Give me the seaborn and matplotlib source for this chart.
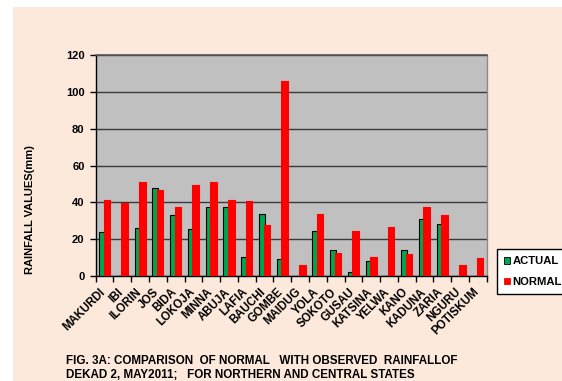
import numpy as np
import pandas as pd
import matplotlib
matplotlib.use("Agg")
import matplotlib.pyplot as plt
import matplotlib.transforms as mtransforms
from matplotlib.patches import Rectangle, Patch
import seaborn as sns

# Stations and rainfall (mm) for the dekad
stations = ["MAKURDI", "IBI", "ILORIN", "JOS", "BIDA", "LOKOJA", "MINNA", "ABUJA",
            "LAFIA", "BAUCHI", "GOMBE", "MAIDUG", "YOLA", "SOKOTO", "GUSAU",
            "KATSINA", "YELWA", "KANO", "KADUNA", "ZARIA", "NGURU", "POTISKUM"]
actual = [23.7, 0.0, 25.9, 47.6, 32.9, 25.3, 37.3, 37.6, 10.1, 33.7, 9.0,
          0.0, 24.4, 14.3, 2.4, 8.1, 0.0, 13.9, 30.8, 28.2, 0.0, 0.0]
normal = [40.9, 39.1, 50.5, 46.3, 36.9, 49.0, 50.5, 40.5, 40.2, 27.0, 105.5,
          5.2, 33.1, 11.9, 24.1, 10.0, 25.9, 11.6, 36.7, 32.4, 5.6, 9.2]
series_names = ["ACTUAL", "NORMAL"]
y_ticks = [0, 20, 40, 60, 80, 100, 120]

df = pd.DataFrame({
    "station": stations * 2,
    "series": [series_names[0]] * len(stations) + [series_names[1]] * len(stations),
    "value": actual + normal,
})

GREEN = "#00A550"
RED = "#FF0000"
PEACH = "#FDE9DB"
PLOT_GRAY = "#C0C0C0"

sns.set_style("white")
plt.rcParams["font.family"] = ["Liberation Sans", "DejaVu Sans"]
plt.rcParams["font.weight"] = "bold"
for key in ["text.color", "axes.labelcolor", "xtick.color", "ytick.color"]:
    plt.rcParams[key] = "black"

fig = plt.figure(figsize=(5.62, 3.81), dpi=100, facecolor="white")
# peach chart area with a thin white margin at left and top
fig.patches.append(Rectangle((13 / 562, 0), 1, 1 - 7 / 381, transform=fig.transFigure,
                             facecolor=PEACH, edgecolor="none", zorder=-10))

ax = fig.add_axes([95.7 / 562, 1 - 276 / 381, 391 / 562, 221 / 381])
ax.set_facecolor(PLOT_GRAY)

sns.barplot(data=df, x="station", y="value", hue="series", order=stations,
            hue_order=series_names, palette=[GREEN, RED], saturation=1,
            width=0.62, dodge=True, ax=ax, legend=False, zorder=3)

# edges: black outline on actual, red outline on normal
n = len(stations)
for i, patch in enumerate(ax.patches):
    if i < n:
        patch.set_edgecolor("black")
        patch.set_linewidth(0.8)
    else:
        patch.set_edgecolor(RED)
        patch.set_linewidth(1.5)

ax.set_ylim(0, 120)
ax.set_xlim(-0.5, n - 0.5)
ax.set_yticks(y_ticks)
ax.yaxis.grid(True, color="#3a3a3a", linewidth=1.0, zorder=1)
ax.set_axisbelow(True)

for side in ["left", "bottom"]:
    ax.spines[side].set_color("black")
    ax.spines[side].set_linewidth(1.0)
    ax.spines[side].set_visible(True)
ax.spines["top"].set_color("#555555")
ax.spines["top"].set_linewidth(1.2)
ax.spines["top"].set_visible(True)
ax.spines["right"].set_color("#8a8a8a")
ax.spines["right"].set_linewidth(1.0)
ax.spines["right"].set_visible(True)

ax.tick_params(axis="y", which="major", direction="out", length=4, width=1,
               color="black", labelsize=8, pad=4, left=True)
ax.set_xticks(np.arange(-0.5, n, 1.0), minor=True)
ax.tick_params(axis="x", which="major", length=0, pad=3, labelsize=8)
ax.tick_params(axis="x", which="minor", direction="out", length=4, width=1,
               color="black", bottom=True)
ax.set_xticks(range(n))
ax.set_xticklabels(stations, rotation=45, ha="right", rotation_mode="anchor",
                   fontweight="bold", fontsize=8.3)
# nudge the slanted station names a little left and down
shift = mtransforms.ScaledTranslation(-5 / 100, -6 / 100, fig.dpi_scale_trans)
for lbl in ax.get_xticklabels():
    lbl.set_transform(lbl.get_transform() + shift)
for lbl in ax.get_yticklabels():
    lbl.set_fontweight("bold")

ax.set_xlabel("")
ax.set_ylabel("")
fig.text(30 / 562, 1 - 210 / 381, "RAINFALL VALUES(mm)", rotation=90,
         ha="center", va="center", fontsize=8, fontweight="bold")

handles = [Patch(facecolor=GREEN, edgecolor="black", linewidth=0.6),
           Patch(facecolor=RED, edgecolor=RED, linewidth=0.6)]
leg = fig.legend(handles, series_names, loc="upper left",
                 bbox_to_anchor=(496.7 / 562, 1 - 249 / 381), frameon=True,
                 fancybox=False, framealpha=1, edgecolor="black",
                 prop={"weight": "bold", "size": 8.1}, handlelength=0.5,
                 handleheight=0.5, handletextpad=0.25, borderpad=0.65,
                 labelspacing=0.95, borderaxespad=0)
leg.get_frame().set_linewidth(1.0)
leg.get_frame().set_facecolor("white")

fig.text(66 / 562, 1 - 361 / 381,
         "FIG. 3A: COMPARISON  OF NORMAL   WITH OBSERVED  RAINFALLOF",
         ha="left", va="center", fontsize=8.4, fontweight="bold")
fig.text(66 / 562, 1 - 375 / 381,
         "DEKAD 2, MAY2011;   FOR NORTHERN AND CENTRAL STATES",
         ha="left", va="center", fontsize=8.4, fontweight="bold")

fig.savefig("out.png", dpi=100, facecolor=fig.get_facecolor())
